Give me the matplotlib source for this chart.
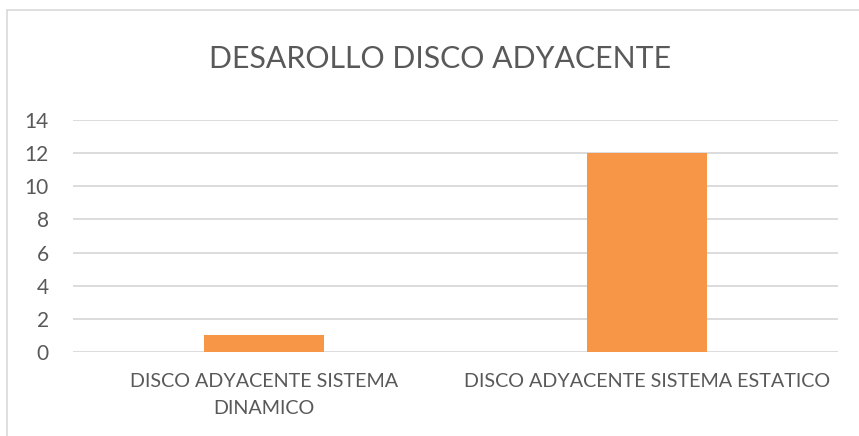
import matplotlib.pyplot as plt
from matplotlib.patches import Rectangle

categories = ["DISCO ADYACENTE SISTEMA\nDINAMICO", "DISCO ADYACENTE SISTEMA ESTATICO"]
values = [1, 12]
yticks = [0, 2, 4, 6, 8, 10, 12, 14]

plt.rcParams['font.family'] = ['Lato', 'DejaVu Sans']

fig = plt.figure(figsize=(8.59, 4.36), dpi=100)
fig.patch.set_facecolor('white')

# chart border, like an excel chart frame
fig.add_artist(Rectangle((7/859, -0.05), 1.2, 1 - 10/436 + 0.05, transform=fig.transFigure,
                         fill=False, edgecolor='#D9D9D9', linewidth=1.2))

ax = fig.add_axes([73/859, 1 - 352/436, (838 - 73)/859, (352 - 120)/436])
x = list(range(len(categories)))
ax.bar(x, values, width=0.314, color='#F79646', zorder=3)
ax.set_xlim(-0.5, 1.5)
ax.set_ylim(0, 14)
ax.set_yticks(yticks)
ax.yaxis.grid(True, color='#D9D9D9', linewidth=1.3, zorder=0)
ax.set_xticks(x)
ax.set_xticklabels(categories, fontsize=14.2, color='#595959', linespacing=1.7)
ax.tick_params(axis='y', labelsize=15, labelcolor='#595959', length=0, pad=17.5)
ax.tick_params(axis='x', length=0, pad=15)
for s in ax.spines.values():
    s.set_visible(False)

fig.text(440/859, 1 - 59/436, "DESAROLLO DISCO ADYACENTE", ha='center', va='center',
         fontsize=21.8, color='#595959')

fig.savefig('out.png', dpi=100)
